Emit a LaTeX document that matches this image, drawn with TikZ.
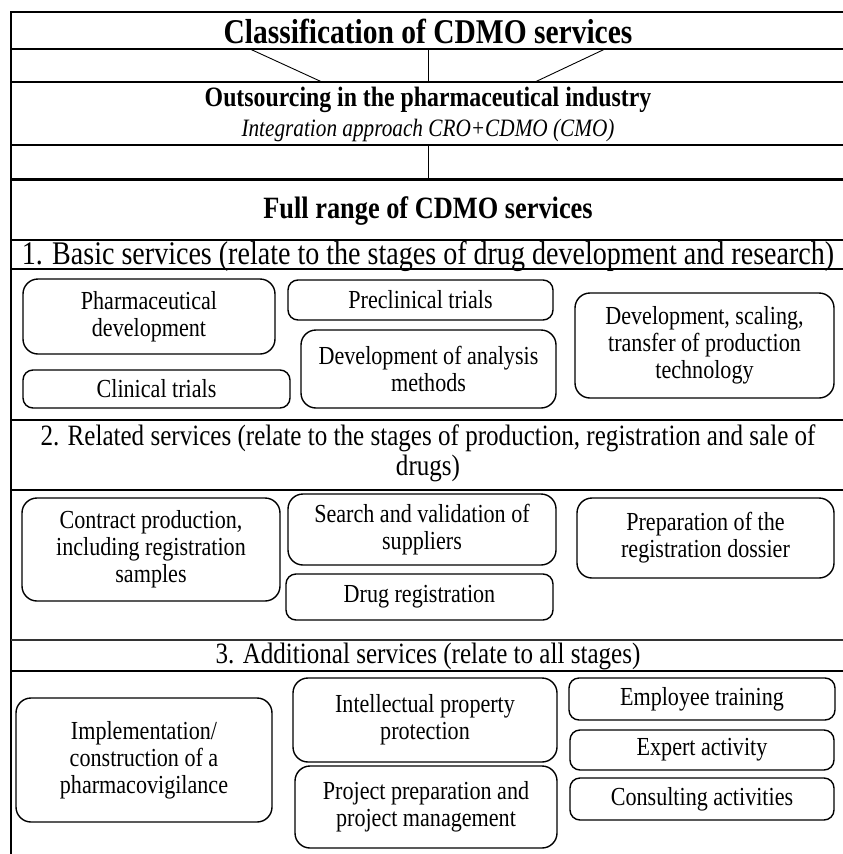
\documentclass[tikz,border=0pt]{standalone}
\usepackage{fontspec}
\setmainfont{Liberation Serif}[FakeStretch=0.85]
\begin{document}
\begin{tikzpicture}[x=1pt,y=-1pt,
  rule/.style={line width=2pt, line cap=rect},
  link/.style={line width=0.9pt},
  box/.style={draw, line width=1.4pt, rounded corners=15pt, align=center,
    inner sep=2pt, font=\fontsize{26}{27}\selectfont},
  smallbox/.style={box, rounded corners=10pt},
  head/.style={inner sep=0pt, align=center}]
\useasboundingbox (0,0) rectangle (843,854);
\fill[white] (0,0) rectangle (843,854);

% frame: left border and the horizontal separators
\draw[rule] (11,12) -- (11,854);
\foreach \yy in {12,49,82,145,240,269,420,490,671}
  \draw[rule] (11,\yy) -- (843,\yy);
\draw[line width=3pt] (11,179) -- (843,179);
\draw[line width=1.6pt, black!80] (11,640) -- (843,640);

% headings
\node[head, font=\fontsize{34.7}{38}\selectfont\bfseries] (title) at (428,31) {Classification of CDMO services};
\node[head, font=\fontsize{28}{32}\selectfont\bfseries] (outs) at (428,100) {Outsourcing in the pharmaceutical industry};
\node[head, font=\fontsize{25}{29}\selectfont\itshape] (integ) at (428,130) {Integration approach CRO+CDMO (CMO)};
\node[head, font=\fontsize{31}{34}\selectfont\bfseries] (full) at (428,211) {Full range of CDMO services};
\node[head, font=\fontsize{33}{36}\selectfont] (sec1) at (428,256) {1. Basic services (relate to the stages of drug development and research)};
\node[head, font=\fontsize{29.5}{30}\selectfont] (sec2) at (428,453) {2. Related services (relate to the stages of production, registration and sale of\\drugs)};
\node[head, font=\fontsize{29.5}{33}\selectfont] (sec3) at (428,656) {3. Additional services (relate to all stages)};

% links between the upper rows
\coordinate (la) at (250,49);  \coordinate (lb) at (322,82);
\coordinate (ma) at (428,49);  \coordinate (mb) at (428,82);
\coordinate (ra) at (605,49);  \coordinate (rb) at (535,82);
\coordinate (va) at (428,145); \coordinate (vb) at (428,179);
\draw[link] (la) -- (lb);
\draw[link] (ma) -- (mb);
\draw[link] (ra) -- (rb);
\draw[link] (va) -- (vb);

% 1. basic services
\node[box, minimum width=252, minimum height=75] (pharm) at (149,316.5) {Pharmaceutical\\development};
\node[smallbox, minimum width=265, minimum height=40] (precl) at (420.5,300) {Preclinical trials};
\node[box, minimum width=255, minimum height=78] (anal) at (428.5,369) {Development of analysis\\methods};
\node[smallbox, minimum width=267, minimum height=38] (clin) at (156.5,389) {Clinical trials};
\node[box, minimum width=259, minimum height=105] (scal) at (704.5,345.5) {Development, scaling,\\transfer of production\\technology};

% 2. related services
\node[box, minimum width=258, minimum height=103] (contr) at (151,549.5) {Contract production,\\including registration\\samples};
\node[box, minimum width=268, minimum height=71] (suppl) at (422,529.5) {Search and validation of\\suppliers};
\node[box, minimum width=257, minimum height=80] (doss) at (705.5,538) {Preparation of the\\registration dossier};
\node[smallbox, minimum width=267, minimum height=46] (dreg) at (419.5,597) {Drug registration};

% 3. additional services
\node[box, minimum width=256, minimum height=124] (pvig) at (144,760) {Implementation/\\construction of a\\pharmacovigilance};
\node[box, minimum width=264, minimum height=84] (ipp) at (425,720) {Intellectual property\\protection};
\node[box, minimum width=262, minimum height=82] (proj) at (426,807) {Project preparation and\\project management};
\node[smallbox, minimum width=266, minimum height=42] (train) at (702,699) {Employee training};
\node[smallbox, minimum width=264, minimum height=40] (expert) at (702,750) {Expert activity};
\node[smallbox, minimum width=264, minimum height=42] (cons) at (702,799) {Consulting activities};
\end{tikzpicture}
\end{document}
